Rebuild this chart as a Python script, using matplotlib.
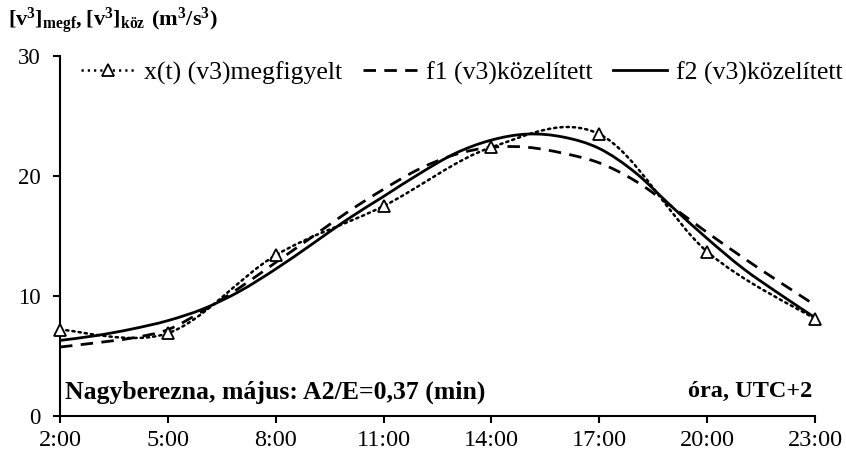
import numpy as np
import matplotlib
matplotlib.use('Agg')
import matplotlib.pyplot as plt
from matplotlib.path import Path
from matplotlib.patches import PathPatch
from matplotlib.lines import Line2D

plt.rcParams['font.family'] = ['Liberation Serif', 'DejaVu Serif']
plt.rcParams['mathtext.fontset'] = 'custom'
plt.rcParams['mathtext.rm'] = 'Liberation Serif'
plt.rcParams['mathtext.bf'] = 'Liberation Serif:bold'

# megfigyelt ertekek (3 orankent)
obs_hours = [2, 5, 8, 11, 14, 17, 20, 23]
obs_values = [7.2, 6.9, 13.4, 17.5, 22.4, 23.5, 13.7, 8.1]

# kozelitett gorbek (orankent)
fit_hours = list(range(2, 24))
f1_values = [5.75, 6.1, 6.5, 7.2, 8.8, 10.7, 12.8, 14.9, 17.0, 18.9, 20.6,
             21.8, 22.4, 22.4, 21.9, 21.1, 19.6, 17.5, 15.3, 13.2, 11.2, 9.25]
f2_values = [6.3, 6.7, 7.25, 7.95, 8.95, 10.4, 12.25, 14.3, 16.4, 18.3, 20.2,
             21.9, 23.0, 23.5, 23.25, 22.3, 20.3, 17.5, 14.8, 12.3, 10.2, 8.2]

tick_hours = [2, 5, 8, 11, 14, 17, 20, 23]
tick_labels = ['2:00', '5:00', '8:00', '11:00', '14:00', '17:00', '20:00', '23:00']
y_ticks = [0, 10, 20, 30]


def smooth_path(xs, ys):
    # Excel-szeru simitott vonal (Bezier szakaszok)
    pts = np.column_stack([np.asarray(xs, float), np.asarray(ys, float)])
    ext = np.vstack([pts[0], pts, pts[-1]])
    verts = [pts[0]]
    codes = [Path.MOVETO]
    for i in range(len(pts) - 1):
        p0, p1, p2, p3 = ext[i], ext[i + 1], ext[i + 2], ext[i + 3]
        verts += [p1 + (p2 - p0) / 6, p2 - (p3 - p1) / 6, p2]
        codes += [Path.CURVE4] * 3
    return Path(verts, codes)


fig = plt.figure(figsize=(8.46, 4.55), dpi=100)
ax = fig.add_axes([0.0709, 0.0857, 0.8924, 0.791])

dotted = (0, (0.9, 1.6))
dashed = (0, (4.5, 3.0))

ax.add_patch(PathPatch(smooth_path(obs_hours, obs_values), fill=False,
                       lw=1.8, ls=dotted, ec='black', capstyle='round'))
ax.add_patch(PathPatch(smooth_path(fit_hours, f1_values), fill=False,
                       lw=2.0, ls=dashed, ec='black'))
ax.add_patch(PathPatch(smooth_path(fit_hours, f2_values), fill=False,
                       lw=2.0, ls='-', ec='black'))
ax.plot(obs_hours, obs_values, ls='none', marker='^', ms=9, mfc='white',
        mec='black', mew=1.3, clip_on=False, zorder=5)

ax.set_xlim(2, 23)
ax.set_ylim(0, 30)
ax.set_xticks(tick_hours)
ax.set_xticklabels(tick_labels)
ax.set_yticks(y_ticks)
for s in ['top', 'right']:
    ax.spines[s].set_visible(False)
for s in ['left', 'bottom']:
    ax.spines[s].set_linewidth(1.5)
ax.tick_params(direction='out', length=5, width=1.5)
ax.tick_params(axis='x', labelsize=17.5, pad=5)
ax.tick_params(axis='y', labelsize=16.5, pad=9)

handles = [
    Line2D([], [], color='black', lw=1.8, ls=dotted, marker='^', ms=9,
           mfc='white', mec='black', mew=1.3),
    Line2D([], [], color='black', lw=2.0, ls=dashed),
    Line2D([], [], color='black', lw=2.0, ls='-'),
]
labels = ['x(t) (v3)megfigyelt', 'f1 (v3)közelített', 'f2 (v3)közelített']
fig.legend(handles, labels, loc='center', bbox_to_anchor=(0.546, 0.84),
           ncol=3, frameon=False, fontsize=18.5, handlelength=2.1,
           handletextpad=0.35, columnspacing=0.8, borderpad=0.1)

ax.text(0.007, 0.067, 'Nagyberezna, május: A2/E=0,37 (min)',
        transform=ax.transAxes, fontsize=18.5, fontweight='bold',
        ha='left', va='center')
ax.text(0.996, 0.067, 'óra, UTC+2', transform=ax.transAxes,
        fontsize=17.5, fontweight='bold', ha='right', va='center')

fig.text(0.009, 0.955,
         r'$\mathbf{[v^3]_{megf}, [v^3]_{köz}\ (m^3/s^3)}$',
         fontsize=16, ha='left', va='center')

fig.savefig('out.png', dpi=100)
